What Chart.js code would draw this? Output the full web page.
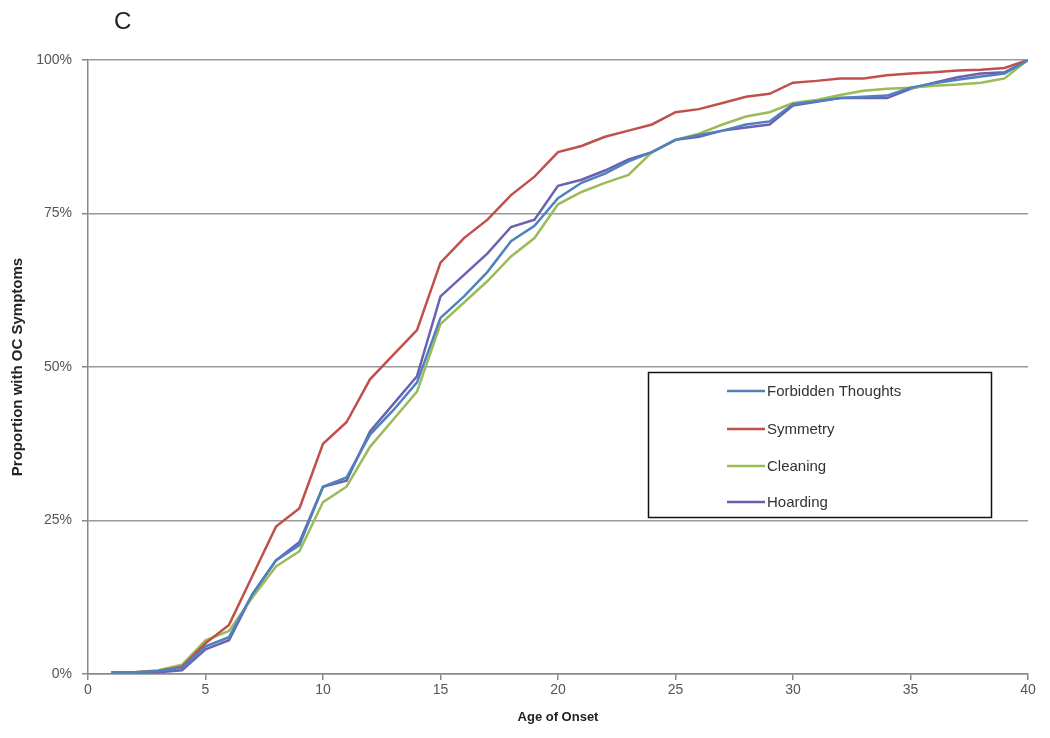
<!DOCTYPE html>
<html>
<head>
<meta charset="utf-8">
<script src="https://cdn.jsdelivr.net/npm/chart.js@4"></script>
<style>
  html, body { margin: 0; padding: 0; background: #fff; }
  #wrap { width: 1050px; height: 738px; }
</style>
</head>
<body>
<div id="wrap"><canvas id="onsetChart" width="1050" height="738"></canvas></div>
<script>
// Age of onset (x) and cumulative % with symptoms per dimension
const ages = [1, 2, 3, 4, 5, 6, 7, 8, 9, 10, 11, 12, 13, 14, 15, 16, 17, 18, 19, 20,
  21, 22, 23, 24, 25, 26, 27, 28, 29, 30, 31, 32, 33, 34, 35, 36, 37, 38, 39, 40];

const forbiddenThoughts = [0.3, 0.3, 0.5, 1.0, 4.5, 6.0, 13, 18.5, 21, 30.5, 32, 39, 43, 47.5, 58, 61.5, 65.5, 70.5, 73, 77.5,
  80, 81.5, 83.5, 85, 87, 87.8, 88.5, 89.5, 90, 92.8, 93.3, 93.8, 94, 94.2, 95.5, 96.2, 96.8, 97.3, 97.8, 100];
const symmetry = [0.3, 0.3, 0.5, 1.2, 5, 8, 16, 24, 27, 37.5, 41, 48, 52, 56, 67, 71, 74, 78, 81, 85,
  86, 87.5, 88.5, 89.5, 91.5, 92, 93, 94, 94.5, 96.3, 96.6, 97, 97, 97.5, 97.8, 98, 98.3, 98.4, 98.7, 100];
const cleaning = [0.3, 0.3, 0.6, 1.5, 5.5, 7, 12.5, 17.5, 20, 28, 30.5, 37, 41.5, 46, 57, 60.5, 64, 68, 71, 76.5,
  78.5, 80, 81.3, 85, 87, 88, 89.5, 90.8, 91.5, 93, 93.5, 94.3, 95, 95.3, 95.5, 95.8, 96, 96.3, 97, 100];
const hoarding = [0.3, 0.3, 0.3, 0.6, 4, 5.5, 13, 18.5, 21.5, 30.5, 31.5, 39.5, 44, 48.5, 61.5, 65, 68.5, 72.8, 74, 79.5,
  80.5, 82, 83.8, 85, 87, 87.5, 88.5, 89, 89.5, 92.6, 93.2, 93.8, 93.8, 93.8, 95.3, 96.3, 97.2, 97.8, 98, 100];

const seriesNames = ['Forbidden Thoughts', 'Symmetry', 'Cleaning', 'Hoarding'];
const seriesColors = ['#4F81BD', '#C0504D', '#9BBB59', '#6A62B0'];
const seriesValues = [forbiddenThoughts, symmetry, cleaning, hoarding];

const datasets = seriesNames.map((name, i) => ({
  label: name,
  data: ages.map((a, j) => ({ x: a, y: seriesValues[i][j] })),
  borderColor: seriesColors[i],
  backgroundColor: seriesColors[i],
  borderWidth: 2.5,
  pointRadius: 0,
  tension: 0,
  fill: false
}));

// panel letter + boxed legend inside the plot, drawn like the Excel original
const extras = {
  id: 'extras',
  afterDraw(chart) {
    const ctx = chart.ctx;
    ctx.save();
    ctx.fillStyle = '#222';
    ctx.font = '24px "Liberation Sans", Arial, sans-serif';
    ctx.textBaseline = 'middle';
    ctx.textAlign = 'left';
    ctx.fillText('C', 114, 22);

    ctx.fillStyle = '#fff';
    ctx.fillRect(648, 372, 344, 146);
    ctx.strokeStyle = '#111';
    ctx.lineWidth = 1.5;
    ctx.strokeRect(648.5, 372.5, 343, 145);

    const rows = [391, 429, 466, 502];
    chart.data.datasets.forEach((ds, i) => {
      ctx.strokeStyle = ds.borderColor;
      ctx.lineWidth = 2.5;
      ctx.beginPath();
      ctx.moveTo(727, rows[i]);
      ctx.lineTo(765, rows[i]);
      ctx.stroke();
      ctx.fillStyle = '#333';
      ctx.font = '15px "Liberation Sans", Arial, sans-serif';
      ctx.fillText(ds.label, 767, rows[i] + 1);
    });
    ctx.restore();
  }
};

new Chart(document.getElementById('onsetChart'), {
  type: 'line',
  data: { datasets },
  plugins: [extras],
  options: {
    responsive: false,
    animation: false,
    layout: { padding: { top: 60, right: 22, left: 0, bottom: 0 } },
    plugins: {
      legend: { display: false },
      tooltip: { enabled: false }
    },
    scales: {
      x: {
        type: 'linear',
        min: 0,
        max: 40,
        afterFit: s => { s.height = 64; },
        ticks: {
          stepSize: 5,
          padding: 2,
          color: '#555',
          font: { family: '"Liberation Sans", Arial, sans-serif', size: 14 }
        },
        grid: { drawOnChartArea: false, tickColor: '#888', tickLength: 6, lineWidth: 1.5 },
        border: { color: '#888', width: 1.5 },
        title: {
          display: true,
          text: 'Age of Onset',
          color: '#222',
          padding: { top: 0, bottom: 13 },
          font: { family: '"Liberation Sans", Arial, sans-serif', size: 13, weight: 'bold' }
        }
      },
      y: {
        min: 0,
        max: 100,
        afterFit: s => { s.width = 88; },
        ticks: {
          stepSize: 25,
          padding: 10,
          color: '#555',
          font: { family: '"Liberation Sans", Arial, sans-serif', size: 14 },
          callback: v => v + '%'
        },
        grid: { color: '#999', tickColor: '#888', tickLength: 6, lineWidth: 1.5 },
        border: { color: '#888', width: 1.5 },
        title: {
          display: true,
          text: 'Proportion with OC Symptoms',
          color: '#222',
          padding: { top: 9, bottom: 0 },
          font: { family: '"Liberation Sans", Arial, sans-serif', size: 15, weight: 'bold' }
        }
      }
    }
  }
});
</script>
</body>
</html>
